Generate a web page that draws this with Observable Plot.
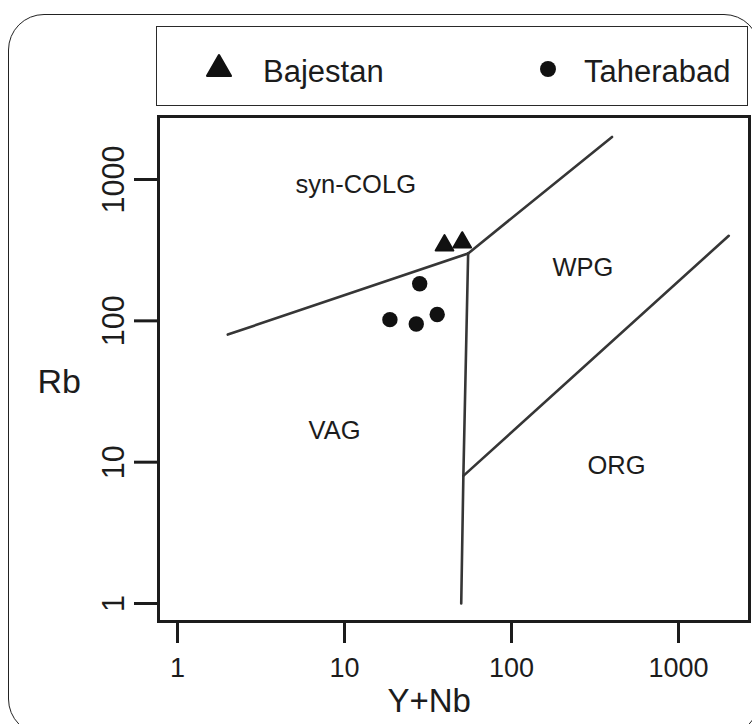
<!DOCTYPE html>
<html>
<head>
<meta charset="utf-8">
<script src="https://cdn.jsdelivr.net/npm/d3@7"></script>
<script src="https://cdn.jsdelivr.net/npm/@observablehq/plot@0.6"></script>
<style>
  html, body { margin: 0; padding: 0; background: #fff; }
  #wrap { position: relative; width: 752px; height: 724px; overflow: hidden; font-family: "Liberation Sans", Arial, sans-serif; }
  #outer { position: absolute; left: 8px; top: 14px; width: 752px; height: 721px; border: 1.7px solid #222; border-radius: 36px; box-sizing: border-box; }
  #legend { position: absolute; left: 156px; top: 26px; width: 592px; height: 80px; border: 1.5px solid #2a2a2a; box-sizing: border-box; }
  #legend svg { position: absolute; left: 0; top: 0; }
  #chart { position: absolute; left: 0; top: 0; }
</style>
</head>
<body>
<div id="wrap">
  <div id="outer"></div>
  <div id="chart"></div>
  <div id="legend"></div>
</div>
<script>
// ---- data ----
const groups = ["Bajestan", "Taherabad"];
const bajestanYNb = [39.7, 50.7];
const bajestanRb = [342, 359];
const taherabadYNb = [28.2, 18.7, 26.9, 35.9];
const taherabadRb = [183, 102, 95, 111];

// Pearce et al. (1984) discrimination boundaries (Y+Nb, Rb)
const boundaryVagSyn = [[2, 80], [55, 300]];
const boundarySynWpg = [[55, 300], [400, 2000]];
const boundaryVagWpg = [[55, 300], [51.5, 8], [50, 1]];
const boundaryOrgWpg = [[51.5, 8], [2000, 400]];

const regionNames = ["syn-COLG", "WPG", "VAG", "ORG"];
const regionYNb = [5.09, 176, 6.09, 285];
const regionRb = [797, 209, 14.7, 8.3];

const xTicks = [1, 10, 100, 1000];
const yTicks = [1, 10, 100, 1000];
const xLabel = "Y+Nb";
const yLabel = "Rb";

// ---- build tables ----
const points = [
  ...bajestanYNb.map((x, i) => ({group: groups[0], x, y: bajestanRb[i]})),
  ...taherabadYNb.map((x, i) => ({group: groups[1], x, y: taherabadRb[i]}))
];
const boundaries = [boundaryVagSyn, boundarySynWpg, boundaryVagWpg, boundaryOrgWpg];
const regions = regionNames.map((name, i) => ({name, x: regionYNb[i], y: regionRb[i]}));

const ink = "#1c1c1c";
const lineInk = "#363636";

const chart = Plot.plot({
  width: 752,
  height: 724,
  marginLeft: 158,
  marginRight: 3,
  marginTop: 116,
  marginBottom: 103,
  x: {type: "log", domain: [0.7694, 2662]},
  y: {type: "log", domain: [0.7459, 2792]},
  style: {fontFamily: "'Liberation Sans', Arial, sans-serif", background: "transparent", color: ink, overflow: "visible"},
  marks: [
    ...boundaries.map(b => Plot.line(b, {x: d => d[0], y: d => d[1], stroke: lineInk, strokeWidth: 2.6})),
    Plot.text(regions, {x: "x", y: "y", text: "name", textAnchor: "start", lineAnchor: "bottom", fontSize: 25.5, fill: ink}),
    Plot.dot(points.filter(d => d.group === groups[0]), {x: "x", y: "y", symbol: "triangle", r: 6.5, fill: "#111", stroke: "#111", strokeWidth: 2.2, strokeLinejoin: "round"}),
    Plot.dot(points.filter(d => d.group === groups[1]), {x: "x", y: "y", symbol: "circle", r: 7.7, fill: "#111", stroke: "none"}),
    Plot.frame({stroke: ink, strokeWidth: 3}),
    Plot.axisX({ticks: xTicks, tickFormat: d => String(d), tickSize: 22, tickPadding: 14, fontSize: 27, stroke: ink, strokeWidth: 3, label: null}),
    Plot.axisY({ticks: yTicks, tickFormat: d => String(d), tickSize: 24, tickPadding: 11, tickRotate: -90, fontSize: 30.5, stroke: ink, strokeWidth: 3, label: null}),
    Plot.text([xLabel], {frameAnchor: "bottom", textAnchor: "start", lineAnchor: "bottom", dx: 387 - 453.5, dy: 90, fontSize: 33, fill: ink}),
    Plot.text([yLabel], {frameAnchor: "left", textAnchor: "start", lineAnchor: "bottom", dx: -121, dy: 23.5, fontSize: 34, fill: ink})
  ]
});
document.getElementById("chart").appendChild(chart);

// ---- legend ----
const legend = d3.select("#legend").append("svg").attr("width", 592).attr("height", 80)
  .style("font-family", "'Liberation Sans', Arial, sans-serif");
const legendSymbols = [d3.symbolTriangle, d3.symbolCircle];
const legendSizes = [240, 200];
const symbolX = [62, 391];
const labelX = [106, 427];
groups.forEach((g, i) => {
  legend.append("path")
    .attr("d", d3.symbol(legendSymbols[i], legendSizes[i])())
    .attr("transform", `translate(${symbolX[i]},42)`)
    .attr("fill", "#111").attr("stroke", i === 0 ? "#111" : "none")
    .attr("stroke-width", 2.5).attr("stroke-linejoin", "round");
  legend.append("text")
    .attr("x", labelX[i]).attr("y", 54.5)
    .attr("font-size", 31).attr("fill", ink)
    .text(g);
});
</script>
</body>
</html>
